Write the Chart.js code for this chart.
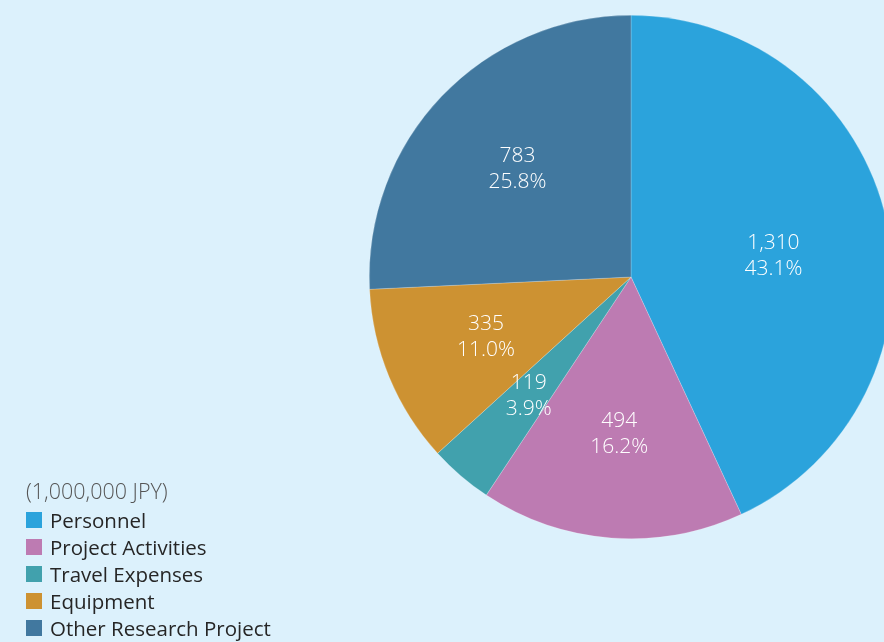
<!DOCTYPE html>
<html>
<head>
<meta charset="utf-8">
<script src="https://cdn.jsdelivr.net/npm/chart.js@4"></script>
<style>
  html, body { margin: 0; padding: 0; background: #dcf1fc; overflow: hidden; }
  #wrap { position: absolute; left: 0; top: 0; width: 900px; height: 642px; }
  #legend { position: absolute; left: 26px; top: 477px; font-family: "Open Sans", "Noto Sans", sans-serif; }
  #legend .unit { color: #555555; font-size: 21.5px; font-weight: 300; height: 29px; line-height: 28px; }
  #legend .item { display: flex; align-items: center; height: 27px; color: #262626; font-size: 20.5px; }
  #legend .box { width: 16px; height: 16px; margin-right: 8px; }
</style>
</head>
<body>
<div id="wrap"><canvas id="chart" width="900" height="642"></canvas></div>
<div id="legend"></div>
<script>
const categories = ['Personnel', 'Project Activities', 'Travel Expenses', 'Equipment', 'Other Research Project']
const amounts = [1310, 494, 119, 335, 783]
const shares = [43.1, 16.2, 3.9, 11.0, 25.8]
const colors = ['#2ba3dc', '#bd7bb2', '#41a1ad', '#cd9232', '#41789f']
const unitLabel = '(1,000,000 JPY)'

// labels inside each slice: amount + share
const sliceLabels = {
    id: 'sliceLabels',
    afterDatasetsDraw(chart) {
        const c = chart.ctx
        const meta = chart.getDatasetMeta(0)
        c.save()
        c.fillStyle = '#ffffff'
        c.textAlign = 'center'
        c.textBaseline = 'middle'
        c.font = '300 21px "Open Sans", "Noto Sans", sans-serif'
        meta.data.forEach((arc, i) => {
            // big slice label sits a bit lower in the original
            const mid = (arc.startAngle + arc.endAngle) / 2 + (i === 0 ? 0.07 : 0)
            const r = arc.outerRadius * (i === 0 ? 0.55 : 0.6)
            const x = arc.x + Math.cos(mid) * r
            const y = arc.y + Math.sin(mid) * r
            c.fillText(amounts[i].toLocaleString('en-US'), x, y - 13)
            c.fillText(shares[i].toFixed(1) + '%', x, y + 13)
        })
        c.restore()
    }
}

new Chart(document.getElementById('chart'), {
    type: 'pie',
    data: {
        labels: categories,
        datasets: [{
            data: amounts,
            backgroundColor: colors,
            borderColor: 'rgba(255,255,255,0.35)',
            borderWidth: 0.6
        }]
    },
    options: {
        responsive: false,
        animation: false,
        layout: { padding: { left: 369, top: 15, right: 7, bottom: 103 } },
        plugins: {
            legend: { display: false },
            tooltip: { enabled: false }
        }
    },
    plugins: [sliceLabels]
})

// html legend
const legend = document.getElementById('legend')
legend.innerHTML = '<div class="unit">' + unitLabel + '</div>' +
    categories.map((name, i) =>
        '<div class="item"><span class="box" style="background:' + colors[i] + '"></span>' + name + '</div>'
    ).join('')
</script>
</body>
</html>
